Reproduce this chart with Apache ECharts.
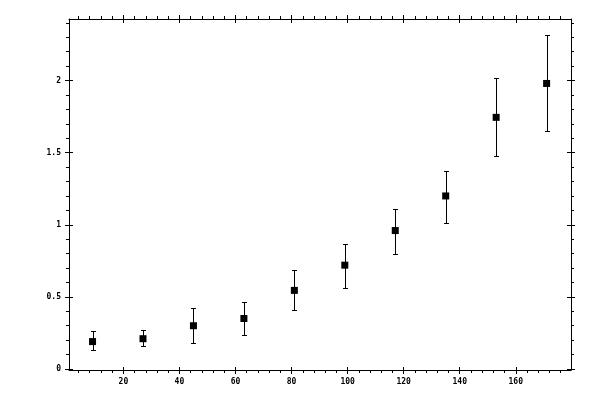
<!DOCTYPE html>
<html>
<head>
<meta charset="utf-8">
<script src="https://cdn.jsdelivr.net/npm/echarts@6/dist/echarts.min.js"></script>
<style>html,body{margin:0;padding:0;background:#fff}#c{width:600px;height:400px}</style>
</head>
<body>
<div id="c"></div>
<script>
const xValues = [9, 27, 45, 63, 81, 99, 117, 135, 153, 171];
const yValues = [0.19, 0.21, 0.30, 0.35, 0.545, 0.72, 0.96, 1.20, 1.745, 1.98];
const yLow = [0.13, 0.16, 0.18, 0.235, 0.41, 0.565, 0.80, 1.01, 1.48, 1.65];
const yHigh = [0.26, 0.27, 0.42, 0.465, 0.685, 0.87, 1.11, 1.375, 2.015, 2.315];
const xMajorTicks = [20, 40, 60, 80, 100, 120, 140, 160];
const xMinorTicks = [4,8,12,16,24,28,32,36,44,48,52,56,64,68,72,76,84,88,92,96,104,108,112,116,124,128,132,136,144,148,152,156,164,168,172,176];
const yMajorTicks = [0, 0.5, 1, 1.5, 2];
const yMinorTicks = [0.1,0.2,0.3,0.4,0.6,0.7,0.8,0.9,1.1,1.2,1.3,1.4,1.6,1.7,1.8,1.9,2.1,2.2,2.3,2.4];

const XMIN = 0.6, XMAX = 179.7, YMIN = -0.007, YMAX = 2.427;
const font = {fontFamily: 'DejaVu Sans Mono', fontSize: 8, fontWeight: 'bold', color: '#000'};
const lineStyle = {color: '#000', width: 1};

function xAx(position, show, tickVals, len, inside, labels) {
  return {
    type: 'value', position: position, min: XMIN, max: XMAX,
    axisLine: {show: show, onZero: false, lineStyle: lineStyle},
    axisTick: {show: true, customValues: tickVals, length: len, inside: inside, lineStyle: lineStyle},
    axisLabel: labels ? Object.assign({show: true, customValues: xMajorTicks, margin: 8}, font) : {show: false},
    splitLine: {show: false}
  };
}
function yAx(position, show, tickVals, len, inside, labels) {
  return {
    type: 'value', position: position, min: YMIN, max: YMAX,
    axisLine: {show: show, onZero: false, lineStyle: lineStyle},
    axisTick: {show: true, customValues: tickVals, length: len, inside: inside, lineStyle: lineStyle},
    axisLabel: labels ? Object.assign({show: true, customValues: yMajorTicks, margin: 8}, font) : {show: false},
    splitLine: {show: false}
  };
}

const scatterData = xValues.map((x, i) => [x, yValues[i]]);
const errData = xValues.map((x, i) => [x, yLow[i], yHigh[i]]);

const chart = echarts.init(document.getElementById('c'), null, {renderer: 'canvas'});
chart.setOption({
  animation: false,
  backgroundColor: '#fff',
  grid: {left: 69, right: 29, top: 19, bottom: 30, containLabel: false},
  xAxis: [
    xAx('bottom', true, xMajorTicks, 4, false, true),
    xAx('bottom', false, xMajorTicks, 3, true, false),
    xAx('bottom', false, xMinorTicks, 3, false, false),
    xAx('top', true, xMajorTicks, 4, false, false),
    xAx('top', false, xMajorTicks, 4, true, false),
    xAx('top', false, xMinorTicks, 3, false, false)
  ],
  yAxis: [
    yAx('left', true, yMajorTicks, 4, false, true),
    yAx('left', false, yMajorTicks, 4, true, false),
    yAx('left', false, yMinorTicks, 3, false, false),
    yAx('right', true, yMajorTicks, 4, false, false),
    yAx('right', false, yMajorTicks, 4, true, false),
    yAx('right', false, yMinorTicks, 3, false, false)
  ],
  series: [
    {
      type: 'custom',
      xAxisIndex: 0, yAxisIndex: 0,
      data: errData,
      renderItem: function (params, api) {
        const x = api.value(0);
        const p1 = api.coord([x, api.value(1)]);
        const p2 = api.coord([x, api.value(2)]);
        const cx = Math.round(p1[0]) + 0.5;
        const y1 = Math.round(p1[1]) + 0.5;
        const y2 = Math.round(p2[1]) + 0.5;
        const w = 2.5;
        const st = {stroke: '#000', lineWidth: 1};
        return {
          type: 'group',
          children: [
            {type: 'line', shape: {x1: cx, y1: y1, x2: cx, y2: y2}, style: st},
            {type: 'line', shape: {x1: cx - w, y1: y1, x2: cx + w, y2: y1}, style: st},
            {type: 'line', shape: {x1: cx - w, y1: y2, x2: cx + w, y2: y2}, style: st}
          ]
        };
      },
      z: 2
    },
    {
      type: 'scatter',
      xAxisIndex: 0, yAxisIndex: 0,
      data: scatterData,
      symbol: 'rect',
      symbolSize: 7,
      itemStyle: {color: '#000', opacity: 1},
      z: 3
    }
  ]
});
</script>
</body>
</html>
